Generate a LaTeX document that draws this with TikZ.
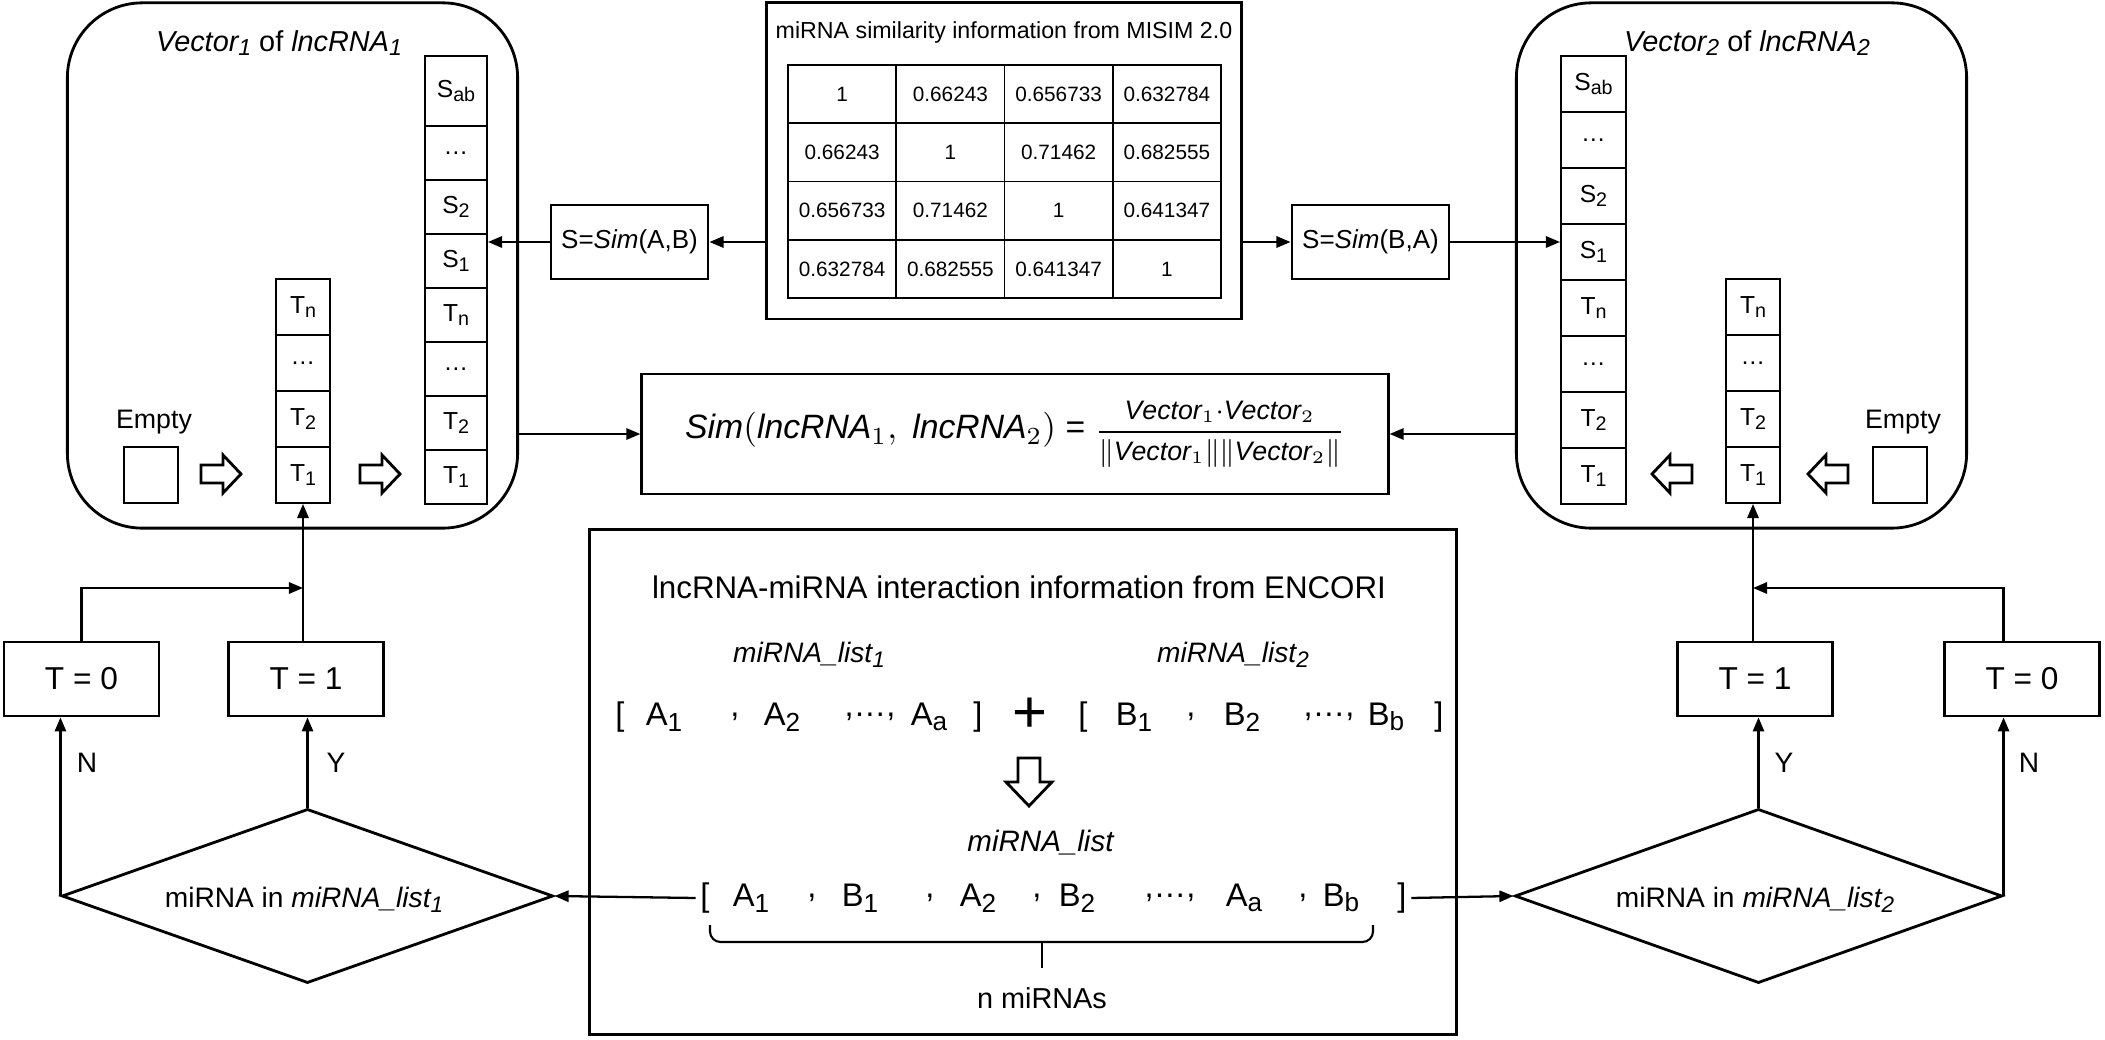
\documentclass[tikz,border=0pt]{standalone}
\usepackage{fontspec}
\usepackage{graphicx}
\setmainfont{Liberation Sans}
\usetikzlibrary{arrows.meta,shapes.geometric,calc}
\newcommand\sbs[1]{\raisebox{-0.32ex}{\scalebox{0.8}{#1}}}
\newcommand\fs[1]{\fontsize{#1}{#1}\selectfont}
\begin{document}
\begin{tikzpicture}[x=0.01cm,y=-0.01cm,
  line width=0.7pt,
  arr/.style={-{Triangle[length=4pt,width=3.2pt]},line width=0.65pt},
  cell/.style={draw,line width=0.55pt,inner sep=0,font=\fs{7}},
  tcell/.style={draw,line width=0.5pt,inner sep=0,minimum width=1.0825cm,minimum height=0.5825cm,font=\fs{5.9}},
  box/.style={draw,line width=0.8pt,inner sep=0},
  tbox/.style={box,minimum width=1.55cm,minimum height=0.74cm,font=\fs{9}},
  simbox/.style={box,minimum width=1.57cm,minimum height=0.74cm,font=\fs{7.4}},
  rbox/.style={draw,line width=0.8pt,rounded corners=0.75cm,minimum width=4.5cm,minimum height=5.25cm,inner sep=0},
  blk/.style={draw,line width=0.8pt,fill=white},
  lbl/.style={inner sep=1pt,font=\fs{8}},
  lst/.style={inner sep=1pt,font=\fs{9.3}}
]
\useasboundingbox (0,0) rectangle (2105,1040);

% ---------- rounded boxes ----------
\node[rbox] (rbL) at (292.5,265.5) {};
\node[rbox] (rbR) at (1741.5,265.5) {};
\node[lbl,font=\fs{8.2}] (titL) at (279,43) {\textit{Vector\sbs{1}} of \textit{lncRNA\sbs{1}}};
\node[lbl,font=\fs{8.2}] (titR) at (1747,43) {\textit{Vector\sbs{2}} of \textit{lncRNA\sbs{2}}};

% left big column
\node[cell,minimum width=0.62cm,minimum height=0.70cm] (L1) at (456,91) {S\sbs{ab}};
\foreach \lab [count=\i from 2] in {…, S\sbs{2}, S\sbs{1}, T\sbs{n}, …, T\sbs{2}, T\sbs{1}}
  \node[cell,minimum width=0.62cm,minimum height=0.54cm] (L\i) at (456,{153+54*(\i-2)}) {\lab};
% right big column
\foreach \lab [count=\i] in {S\sbs{ab}, …, S\sbs{2}, S\sbs{1}, T\sbs{n}, …, T\sbs{2}, T\sbs{1}}
  \node[cell,minimum width=0.65cm,minimum height=0.56cm] (R\i) at (1593.5,{84+56*(\i-1)}) {\lab};
% small columns
\foreach \lab [count=\i] in {T\sbs{n}, …, T\sbs{2}, T\sbs{1}}{
  \node[cell,minimum width=0.54cm,minimum height=0.56cm] (sl\i) at (303,{307+56*(\i-1)}) {\lab};
  \node[cell,minimum width=0.54cm,minimum height=0.56cm] (sr\i) at (1753,{307+56*(\i-1)}) {\lab};
}
% empty boxes
\node[cell,minimum width=0.54cm,minimum height=0.56cm] (eL) at (151,475) {};
\node[cell,minimum width=0.54cm,minimum height=0.56cm] (eR) at (1900,475) {};
\node[lbl,font=\fs{7.6}] (eLt) at (154,422) {Empty};
\node[lbl,font=\fs{7.6}] (eRt) at (1903,422) {Empty};

% hollow block arrows (right-pointing, left side)
\foreach \x in {201,360}
  \draw[blk] (\x,474) ++(0,-9) -- ++(22,0) -- ++(0,-10) -- ++(18,19) -- ++(-18,19) -- ++(0,-10) -- ++(-22,0) -- cycle;
% hollow block arrows (left-pointing, right side)
\foreach \x in {1692,1848}
  \draw[blk] (\x,474) ++(0,-9) -- ++(-22,0) -- ++(0,-10) -- ++(-18,19) -- ++(18,19) -- ++(0,-10) -- ++(22,0) -- cycle;

% ---------- similarity table ----------
\node[box,minimum width=4.74cm,minimum height=3.16cm] (tbl) at (1004,161) {};
\node[lbl,font=\fs{6.6}] (tblt) at (1004,33) {miRNA similarity information from MISIM 2.0};
\foreach \row [count=\r] in {{1,0.66243,0.656733,0.632784},{0.66243,1,0.71462,0.682555},{0.656733,0.71462,1,0.641347},{0.632784,0.682555,0.641347,1}}
  \foreach \v [count=\c] in \row
    \node[tcell] (c\r\c) at ({788+108.25*(\c-0.5)},{65+58.25*(\r-0.5)}) {\v};

% S = Sim boxes
\node[simbox] (simAB) at (629.5,242) {S=\textit{Sim}(A,B)};
\node[simbox] (simBA) at (1370.5,242) {S=\textit{Sim}(B,A)};
\draw[arr] (simAB.east -| tbl.west) -- (simAB.east);
\draw[arr] (simAB.west) -- (simAB.west -| L4.east);
\draw[arr] (simBA.west -| tbl.east) -- (simBA.west);
\draw[arr] (simBA.east) -- (simBA.east -| R4.west);

% ---------- formula ----------
\node[box,minimum width=7.46cm,minimum height=1.2cm,font=\fs{9.6}] (fm) at (1015,434)
  {\textit{Sim}$(\mathit{lncRNA}_1,\ \mathit{lncRNA}_2)$ = {\fs{7.6}$\displaystyle\frac{\mathit{Vector}_1{\cdot}\mathit{Vector}_2}{\|\mathit{Vector}_1\|\|\mathit{Vector}_2\|}$}};
\draw[arr] (rbL.east |- fm.west) -- (fm.west);
\draw[arr] (rbR.west |- fm.east) -- (fm.east);

% ---------- ENCORI box ----------
\node[box,minimum width=8.66cm,minimum height=5.04cm] (enc) at (1023,782) {};
\node[lbl,font=\fs{8.9}] (enct) at (1019,587) {lncRNA-miRNA interaction information from ENCORI};
\node[lbl,font=\fs{8}] (ml1) at (809,655) {\textit{miRNA\_list\sbs{1}}};
\node[lbl,font=\fs{8}] (ml2) at (1233,655) {\textit{miRNA\_list\sbs{2}}};
\foreach \x/\t [count=\i] in {620/{[}, 664/A\sbs{1}, 735/{,}, 782/A\sbs{2}, 870/{,…,}, 929/A\sbs{a}, 978/{]},
    1083/{[}, 1134/B\sbs{1}, 1191/{,}, 1242/B\sbs{2}, 1329/{,…,}, 1386/B\sbs{b}, 1439/{]}}
  \node[lst] (la\i) at (\x,717) {\t};
\node[inner sep=0,font=\fs{17}] (plus) at (1030,715) {+};
\draw[blk] (1029,758) ++(-11,0) -- ++(0,24) -- ++(-12,0) -- ++(23,24) -- ++(23,-24) -- ++(-12,0) -- ++(0,-24) -- cycle;
\node[lbl,font=\fs{8.4}] (mlt) at (1041,843) {\textit{miRNA\_list}};
\foreach \x/\t [count=\i] in {705/{[}, 751/A\sbs{1}, 812/{,}, 860/B\sbs{1}, 930/{,}, 978/A\sbs{2}, 1037/{,}, 1077/B\sbs{2}, 1170/{,…,}, 1244/A\sbs{a}, 1303/{,}, 1341/B\sbs{b}, 1402/{]}}
  \node[lst] (lb\i) at (\x,898) {\t};
\draw[line width=0.6pt,rounded corners=3pt] (710,925) -- (710,942) -- (1373,942) -- (1373,925);
\draw[line width=0.6pt] (1042,942) -- (1042,968);
\node[lbl,font=\fs{8.2}] (nmi) at (1042,998) {n miRNAs};

% ---------- decision diamonds ----------
\node[draw,diamond,line width=0.8pt,aspect=2.82,minimum width=4.91cm,minimum height=1.74cm,inner sep=0] (d1) at (307.5,896) {};
\node[lbl] (d1t) at (304,900) {miRNA in \textit{miRNA\_list\sbs{1}}};
\node[draw,diamond,line width=0.8pt,aspect=2.82,minimum width=4.87cm,minimum height=1.74cm,inner sep=0] (d2) at (1758.5,896) {};
\node[lbl] (d2t) at (1755,900) {miRNA in \textit{miRNA\_list\sbs{2}}};
\draw[arr] (lb1.west) -- (d1.east);
\draw[arr] (lb13.east) -- (d2.west);

% ---------- T boxes ----------
\node[tbox] (t0L) at (81.5,679) {T = 0};
\node[tbox] (t1L) at (306,679) {T = 1};
\node[tbox] (t1R) at (1755,679) {T = 1};
\node[tbox] (t0R) at (2022,679) {T = 0};

\draw[arr] (d1.west) -- (d1.west |- t0L.south);
\draw[arr] (d1.north) -- (d1.north |- t1L.south);
\draw[arr] (d2.east) -- (d2.east |- t0R.south);
\draw[arr] (d2.north) -- (d2.north |- t1R.south);
\node[lbl] (nL) at (87,763) {N};
\node[lbl] (yL) at (336,763) {Y};
\node[lbl] (yR) at (1784,763) {Y};
\node[lbl] (nR) at (2029,763) {N};

\draw[arr] (sl4.south |- t1L.north) -- (sl4.south);
\draw[arr] (sr4.south |- t1R.north) -- (sr4.south);
\coordinate (jL) at (303,588);
\coordinate (jR) at (1753,588);
\draw[arr] (t0L.north) |- (jL);
\draw[arr] (d2.east |- t0R.north) |- (jR);
\end{tikzpicture}
\end{document}
